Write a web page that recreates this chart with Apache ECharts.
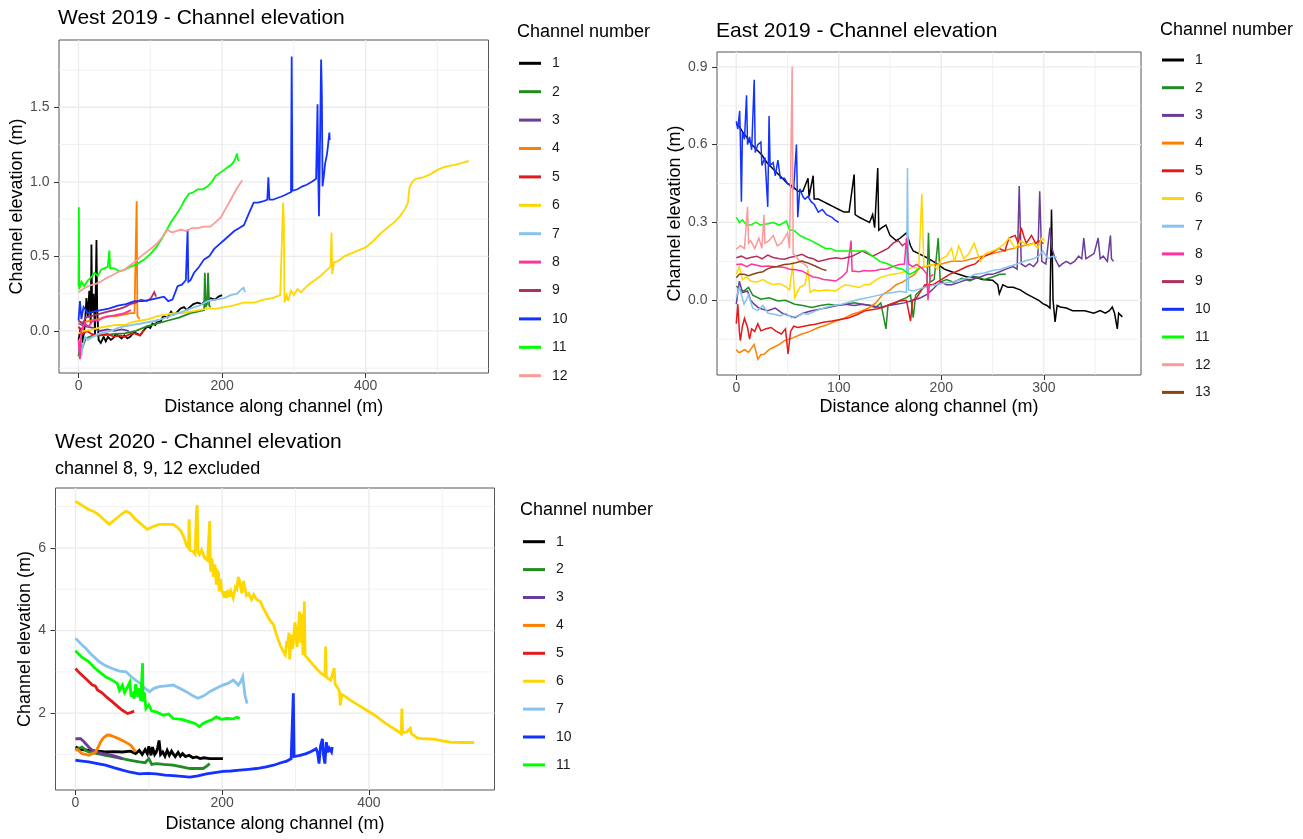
<!DOCTYPE html>
<html>
<head>
<meta charset="utf-8">
<script src="https://cdn.jsdelivr.net/npm/echarts@6/dist/echarts.min.js"></script>
<style>
html,body{margin:0;padding:0;background:#fff;}
#chart{width:1303px;height:839px;}
</style>
</head>
<body>
<div id="chart"></div>
<script>
// ---------------- DATA ----------------
// West 2019 panel: [distance (m), elevation (m)]
const w19_ch1 = [[0,-0.06],[3,0.02],[6,-0.08],[9,0.05],[11,0.22],[13,0.1],[15,0.27],[17,0.05],[18,0.58],[19,0.12],[21,0.25],[23,-0.02],[25,0.61],[26,0.15],[28,-0.06],[31,-0.08],[35,-0.04],[38,-0.07],[41,-0.04],[45,-0.06],[48,-0.05],[52,-0.02],[55,-0.03],[60,-0.05],[64,-0.03],[68,-0.05],[72,-0.04],[77,-0.01],[82,-0.02],[86,-0.03],[90,0.0],[96,0.03],[100,0.02],[103,0.05],[107,0.04],[110,0.07],[114,0.06],[118,0.1],[124,0.09],[129,0.13],[132,0.11],[136,0.12],[142,0.15],[147,0.16],[151,0.14],[155,0.16],[160,0.18],[166,0.19],[172,0.18],[178,0.21],[184,0.22],[190,0.21],[195,0.23],[200,0.24]];
const w19_ch2 = [[0,-0.17],[2,-0.08],[5,-0.12],[10,-0.05],[20,-0.03],[35,-0.03],[50,-0.02],[64,-0.016],[80,0.0],[95,0.03],[110,0.05],[125,0.07],[140,0.09],[156,0.12],[166,0.13],[175,0.14],[176,0.39],[177,0.16],[179,0.18],[180.5,0.39],[182,0.17],[184,0.16]];
const w19_ch3 = [[0,0.05],[10,0.03],[20,0.02],[30,0.0],[40,0.01],[50,0.0],[60,0.01],[70,0.0]];
const w19_ch4 = [[0,0.05],[8,0.06],[17,0.07],[28,0.08],[40,0.1],[52,0.1],[64,0.11],[72,0.12],[78,0.12],[81,0.87],[82,0.1],[85,0.08]];
const w19_ch5 = [[0,0.03],[6,-0.02],[12,0.0],[18,-0.02],[28,-0.03],[40,-0.02],[50,-0.04],[58,-0.03],[64,-0.04],[72,-0.02],[78,-0.016],[85,-0.03],[92,0.007]];
const w19_ch6 = [[0,-0.016],[8,0.0],[17.6,0.007],[28,0.02],[40,0.03],[52,0.04],[64,0.04],[75,0.06],[87,0.07],[98,0.08],[110,0.1],[122,0.11],[133,0.12],[145,0.12],[156,0.13],[168,0.14],[180,0.15],[192,0.15],[203,0.16],[215,0.17],[230,0.19],[245,0.19],[258,0.21],[270,0.22],[281,0.24],[285,0.86],[286,0.75],[287,0.19],[290,0.24],[292,0.2],[296,0.27],[300,0.24],[305,0.28],[310,0.26],[318,0.3],[326,0.33],[335,0.36],[344,0.4],[351,0.43],[352.5,0.66],[353.5,0.38],[356,0.46],[362,0.47],[370,0.5],[380,0.52],[390,0.54],[400,0.56],[410,0.6],[420,0.65],[430,0.69],[440,0.73],[448,0.77],[455,0.82],[459,0.86],[461,0.96],[465,1.0],[470,1.02],[480,1.03],[490,1.05],[500,1.08],[510,1.1],[520,1.11],[530,1.12],[537,1.13],[544,1.14]];
const w19_ch7 = [[0,-0.13],[2,-0.05],[3.7,-0.17],[6,-0.1],[9,-0.04],[13,-0.06],[20,-0.04],[28,-0.02],[36,-0.01],[45,0.0],[55,0.02],[64,0.03],[75,0.04],[87,0.05],[98,0.06],[110,0.07],[122,0.09],[133,0.11],[145,0.13],[156,0.15],[168,0.17],[180,0.2],[192,0.21],[203,0.22],[212,0.24],[221,0.25],[227,0.28],[230,0.29],[232,0.26]];
const w19_ch8 = [[0,-0.06],[2,-0.19],[4,0.0],[8,0.05],[14,0.03],[20,0.07],[27,0.07],[35,0.09],[45,0.1],[55,0.11],[64,0.12],[73,0.14]];
const w19_ch9 = [[0,0.07],[6,0.05],[10,0.09],[17.6,0.1],[25,0.11],[33,0.12],[40.7,0.13],[50,0.14],[58,0.15],[64,0.16],[72,0.18],[80,0.19],[87,0.21],[95,0.2],[101,0.22],[105.5,0.26],[108,0.23]];
const w19_ch10 = [[0,0.07],[2,0.2],[4,0.08],[7,0.16],[13,0.12],[20,0.13],[31.5,0.14],[42,0.15],[55,0.17],[66,0.18],[78,0.2],[90,0.2],[101,0.21],[110,0.22],[119,0.23],[125,0.2],[131,0.21],[138,0.3],[144,0.31],[149.5,0.34],[152,0.68],[153,0.33],[156,0.34],[161,0.39],[168,0.43],[175,0.48],[182,0.5],[189,0.55],[196,0.58],[203,0.61],[210,0.64],[217,0.67],[224,0.69],[230.5,0.71],[237.5,0.79],[244,0.86],[250,0.86],[258,0.87],[263,0.88],[264.5,1.03],[266,0.88],[271,0.88],[276,0.89],[282,0.9],[287,0.91],[291,0.92],[296,0.93],[297,1.84],[298,0.94],[305,0.95],[312,0.97],[318,0.98],[325,1.0],[331,1.02],[333,1.52],[334,1.05],[335,0.77],[336,1.1],[338,1.82],[339,1.59],[340,0.97],[342,1.05],[343.5,1.12],[346,1.18],[347.5,1.24],[349.5,1.33],[350,1.28]];
const w19_ch11 = [[0,0.3],[0.5,0.83],[1,0.28],[4,0.33],[8,0.3],[13,0.34],[18,0.36],[22,0.39],[27,0.37],[31.5,0.41],[36,0.42],[40.7,0.43],[43,0.54],[44,0.42],[50,0.42],[57,0.4],[64,0.41],[72,0.43],[82,0.45],[92,0.48],[101,0.52],[108,0.56],[115,0.61],[122,0.67],[129,0.73],[136,0.78],[142.6,0.83],[148,0.88],[154,0.92],[160,0.93],[166,0.95],[173,0.95],[180,0.97],[186,1.0],[191,1.04],[197,1.06],[203,1.08],[208,1.1],[212,1.11],[217,1.14],[221,1.19],[222,1.15],[223.6,1.14]];
const w19_ch12 = [[0,0.26],[6,0.28],[13,0.3],[20,0.31],[27,0.32],[34,0.34],[40.7,0.36],[50,0.38],[57,0.4],[64,0.41],[72,0.44],[80,0.47],[87,0.5],[95,0.53],[103,0.56],[110,0.59],[117,0.63],[124,0.68],[130,0.66],[136,0.67],[142.6,0.68],[150,0.67],[158,0.69],[166,0.69],[175,0.7],[184,0.7],[191,0.73],[198,0.76],[205,0.82],[212,0.88],[220,0.95],[228,1.01]];

// East 2019 panel
const e19_ch1 = [[0,0.68],[3,0.67],[6,0.65],[10,0.63],[15,0.6],[20,0.58],[25,0.56],[30,0.53],[35,0.51],[40,0.49],[45,0.47],[50,0.45],[55,0.44],[60,0.42],[65,0.42],[70,0.47],[71,0.4],[75,0.48],[76,0.39],[80,0.39],[85,0.38],[90,0.37],[95,0.36],[100,0.35],[105,0.34],[110,0.34],[115,0.485],[116,0.33],[120,0.32],[125,0.31],[130,0.3],[133,0.33],[135,0.28],[138,0.51],[139,0.27],[142,0.28],[146,0.29],[150,0.25],[156,0.23],[160,0.24],[166,0.26],[170,0.21],[172.6,0.19],[178,0.18],[186,0.164],[192,0.15],[196,0.14],[203,0.12],[210,0.11],[217,0.1],[225,0.09],[233,0.09],[240,0.08],[250,0.077],[255,0.06],[256.6,0.025],[260,0.06],[265,0.05],[270,0.05],[277,0.04],[283,0.025],[290,0.01],[295,0.0],[299,-0.013],[303,-0.02],[306,-0.03],[307.5,0.35],[309,0.0],[311,-0.083],[313,-0.02],[316,-0.026],[322,-0.03],[328,-0.04],[332,-0.04],[340,-0.04],[348.7,-0.05],[355,-0.04],[360,-0.05],[364,-0.04],[366.8,-0.026],[369,-0.05],[371.7,-0.11],[373,-0.05],[376.6,-0.064]];
const e19_ch2 = [[0,0.055],[4,0.04],[7.6,0.036],[12,0.05],[16,0.02],[24,0.004],[32,0.01],[40.6,-0.003],[48,0.0],[57,-0.015],[65,-0.02],[73.6,-0.028],[82,-0.02],[90,-0.015],[98,-0.02],[106.6,-0.015],[115,-0.01],[123,-0.015],[130,-0.02],[136,-0.028],[141,-0.01],[146,-0.11],[148,-0.02],[153,-0.015],[160,0.0],[166,0.01],[170,0.02],[172.6,-0.067],[175,0.02],[179,0.036],[186,0.06],[187.5,0.26],[189,0.07],[193,0.08],[197,0.24],[199,0.07],[205,0.08],[212,0.07],[220,0.085],[228,0.075],[235,0.09],[242,0.08],[250,0.09],[257,0.1],[263,0.1]];
const e19_ch3 = [[0,-0.015],[3,0.074],[6,0.03],[11,0.036],[14,0.0],[17.5,-0.015],[22,-0.03],[30.7,-0.04],[38,-0.03],[45,-0.05],[52,-0.06],[57,-0.067],[65,-0.05],[73.6,-0.04],[80,-0.035],[90,-0.028],[98,-0.02],[106.6,-0.015],[115,-0.02],[123,-0.015],[132,-0.02],[140,-0.028],[148,-0.02],[156,-0.015],[164,-0.01],[172.6,0.0],[180,0.01],[186,0.023],[191,0.04],[196,0.06],[200,0.07],[205,0.06],[210,0.06],[218,0.07],[225,0.08],[230,0.08],[238,0.09],[245,0.1],[250,0.1],[257,0.11],[263,0.12],[270,0.13],[274,0.12],[276,0.44],[278,0.14],[282,0.13],[286,0.14],[290,0.13],[294,0.15],[296,0.42],[298,0.15],[302,0.14],[306,0.28],[308,0.2],[311,0.16],[315,0.13],[318,0.14],[322,0.15],[326,0.14],[330,0.15],[334,0.17],[337,0.16],[339,0.24],[341,0.16],[345,0.17],[349,0.18],[353,0.24],[355,0.16],[358,0.17],[362,0.15],[365,0.25],[366,0.16],[368,0.15]];
const e19_ch4 = [[0,-0.19],[2,-0.2],[4,-0.2],[8,-0.19],[12,-0.2],[17.5,-0.17],[21,-0.227],[24,-0.21],[27,-0.208],[32,-0.19],[37,-0.18],[42,-0.17],[47,-0.156],[55,-0.145],[64,-0.13],[72,-0.12],[80,-0.105],[88,-0.095],[97,-0.08],[105,-0.07],[113,-0.054],[120,-0.045],[130,-0.028],[136,-0.01],[143,0.023],[150,0.04],[156,0.06],[162,0.07],[169,0.087],[174,0.1],[179,0.126],[186,0.13],[192,0.138],[200,0.14],[210,0.15],[220,0.15],[230,0.16],[240,0.17],[250,0.18],[260,0.19],[270,0.2],[280,0.21],[290,0.22],[300,0.22]];
const e19_ch5 = [[0,-0.09],[1.5,-0.015],[3,-0.12],[4,-0.156],[6,-0.1],[8,-0.07],[11,-0.105],[13,-0.15],[15,-0.11],[18,-0.12],[21,-0.09],[24,-0.118],[29,-0.11],[34,-0.105],[39,-0.12],[44,-0.13],[48,-0.11],[50.5,-0.207],[53,-0.12],[56,-0.1],[60,-0.105],[66,-0.1],[72,-0.095],[77,-0.092],[85,-0.085],[93.4,-0.08],[100,-0.075],[110,-0.067],[118,-0.055],[126,-0.04],[135,-0.035],[143,-0.028],[150,-0.015],[159,-0.003],[166,0.0],[170,-0.08],[172,0.0],[176,0.01],[184,0.06],[192,0.06],[200,0.08],[208,0.1],[217,0.115],[225,0.13],[233,0.14],[240,0.166],[248,0.18],[256,0.2],[262,0.19],[266,0.24],[272,0.25],[275,0.22],[278,0.28],[281,0.24],[283,0.22],[288,0.25],[292,0.22],[295,0.23],[299,0.22]];
const e19_ch6 = [[0,0.1],[3,0.13],[6,0.08],[10,0.09],[14,0.074],[20,0.07],[26,0.08],[30,0.07],[36,0.06],[42,0.065],[47,0.055],[52,0.04],[55,0.14],[57,0.01],[62,0.05],[67,0.06],[70,0.12],[72,0.03],[76,0.04],[80,0.036],[88,0.04],[97,0.036],[102,0.05],[106.6,0.06],[113,0.055],[120,0.049],[125,0.06],[130,0.06],[135,0.075],[140,0.087],[146,0.095],[153,0.1],[160,0.105],[166,0.113],[172,0.13],[178,0.12],[181,0.41],[183,0.13],[188,0.135],[192,0.138],[196,0.12],[200,0.16],[205,0.17],[210,0.2],[213,0.15],[217,0.21],[222,0.16],[227,0.18],[232,0.22],[238,0.15],[243,0.18],[250,0.19],[256,0.2],[262,0.22],[266,0.24],[272,0.2],[278,0.23],[284,0.21],[290,0.22],[294,0.2],[298,0.24],[301,0.23]];
const e19_ch7 = [[0,0.01],[3,0.05],[7.6,-0.015],[12,0.02],[16,-0.03],[20.8,-0.04],[26,-0.02],[31,-0.05],[37,-0.054],[43,-0.06],[48,-0.05],[54,-0.067],[60,-0.06],[65,-0.05],[70,-0.054],[78,-0.04],[87,-0.028],[95,-0.02],[103,-0.015],[112,-0.005],[120,0.004],[128,0.01],[136,0.017],[145,0.025],[153,0.03],[160,0.035],[166,0.03],[167,0.51],[168,0.04],[172.6,0.036],[180,0.045],[184,0.05],[189,0.055],[195,0.06],[200,0.065],[210,0.07],[217,0.077],[225,0.085],[233,0.1],[242,0.105],[250,0.115],[258,0.12],[266,0.13],[274,0.14],[283,0.153],[290,0.16],[295,0.17],[299,0.19],[304,0.16],[308,0.17],[312.5,0.166]];
const e19_ch8 = [[0,0.138],[5,0.14],[10,0.13],[15,0.14],[20,0.135],[25,0.13],[30.7,0.132],[36,0.13],[42,0.128],[47,0.126],[52,0.12],[58,0.118],[64,0.113],[70,0.1],[75,0.09],[80,0.087],[85,0.08],[90,0.078],[97,0.074],[103,0.09],[108,0.11],[112,0.23],[113,0.113],[120,0.11],[125,0.115],[130,0.113],[136,0.115],[141,0.12],[146,0.12],[153,0.13],[159,0.138],[164,0.14],[166,0.24],[168,0.14],[172,0.13],[176,0.138],[182,0.12],[186,0.1],[187,0.0],[189,0.09],[192,0.1]];
const e19_ch9 = [[0,0.164],[5,0.17],[10,0.16],[14,0.165],[20,0.17],[25,0.16],[30.7,0.174],[36,0.165],[42,0.16],[47,0.158],[52,0.165],[58,0.17],[64,0.177],[70,0.165],[75,0.16],[80,0.15],[86,0.155],[91,0.16],[97,0.164],[103,0.16],[108,0.165],[113,0.17],[118,0.18],[123,0.19],[128,0.18],[133,0.17],[138,0.18],[143,0.19],[148,0.2],[153,0.22],[158,0.23],[162,0.21],[165,0.22]];
const e19_ch10 = [[0,0.69],[1.5,0.66],[3.3,0.73],[4,0.62],[5,0.38],[6,0.65],[8,0.62],[10,0.79],[11,0.6],[13,0.63],[15,0.58],[17.5,0.85],[18.5,0.57],[21,0.6],[24,0.61],[25,0.52],[28,0.55],[30.7,0.36],[32,0.71],[33,0.52],[36,0.53],[38,0.48],[40.6,0.54],[43,0.47],[47,0.47],[50,0.45],[53,0.44],[56,0.43],[58.7,0.6],[60,0.32],[62,0.43],[65,0.4],[67,0.39],[70,0.4],[73,0.38],[76,0.37],[80,0.34],[84,0.35],[88,0.33],[93.4,0.32],[96,0.31],[100,0.3]];
const e19_ch11 = [[0,0.32],[3,0.3],[6,0.31],[10,0.29],[14,0.29],[19,0.3],[24,0.29],[30.7,0.295],[36,0.3],[42,0.29],[49,0.305],[52,0.27],[56,0.27],[62,0.25],[67,0.24],[73,0.23],[80,0.215],[87,0.2],[92,0.2],[97,0.19],[104,0.19],[113,0.19],[120,0.19],[126,0.19],[133,0.17],[140,0.15],[148,0.14],[156,0.125],[162,0.12],[169,0.1],[174,0.11],[179,0.125]];
const e19_ch12 = [[0,0.196],[4,0.21],[8,0.2],[11,0.36],[12,0.22],[14,0.23],[18,0.2],[22,0.24],[25,0.2],[27,0.33],[28,0.22],[32,0.23],[36,0.25],[40,0.21],[44,0.22],[47,0.24],[50,0.26],[52,0.2],[54.5,0.9],[55.5,0.18],[58,0.17],[62,0.15],[66,0.14],[70,0.126]];
const e19_ch13 = [[0,0.087],[3,0.1],[7.6,0.1],[12,0.095],[16,0.1],[20.8,0.106],[26,0.11],[30,0.12],[34,0.126],[40,0.13],[47,0.138],[52,0.14],[58,0.145],[64,0.151],[69,0.145],[73.6,0.138],[78,0.13],[83.5,0.12],[88,0.115]];

// West 2020 panel
const w20_ch1 = [[0,1.18],[9,1.12],[18,1.1],[30,1.08],[41,1.06],[52,1.07],[64,1.06],[75,1.08],[82,1.02],[87,1.1],[91,1.0],[95,1.12],[98,1.02],[100,1.2],[103,0.98],[105,1.18],[108,1.0],[110,1.05],[112,1.16],[114,1.34],[116,1.0],[119,1.06],[122,0.96],[125,1.1],[128,0.98],[131,1.08],[133,1.02],[136,0.95],[140,1.05],[143,0.96],[146,1.02],[150,0.95],[155,0.98],[160,0.92],[165,0.94],[170,0.9],[175,0.92],[183,0.9],[192,0.9],[201,0.9]];
const w20_ch2 = [[0,1.1],[5,1.15],[9,1.18],[14,1.1],[18,1.06],[30,1.02],[41,0.98],[52,0.94],[64,0.9],[75,0.86],[87,0.82],[95,0.8],[100,0.9],[104,0.76],[110,0.78],[120,0.76],[133,0.74],[145,0.7],[156,0.66],[165,0.66],[174,0.66],[179,0.72],[183,0.78]];
const w20_ch3 = [[0,1.38],[7,1.38],[11,1.32],[14,1.26],[18,1.18],[23,1.1],[30,1.05],[37,1.02],[44,1.0],[50,0.98],[57,0.94],[64,0.9]];
const w20_ch4 = [[0,1.14],[4,1.1],[9,1.02],[14,1.0],[18,0.98],[23,1.02],[27.5,1.06],[31,1.18],[34,1.3],[38,1.4],[43.5,1.47],[48,1.46],[52.6,1.43],[58,1.39],[64,1.34],[70,1.28],[75.5,1.22],[79,1.14],[82,1.06]];
const w20_ch5 = [[0,3.08],[4,3.0],[9,2.92],[16,2.8],[23,2.68],[27,2.66],[30,2.56],[34,2.52],[37,2.48],[43,2.38],[50,2.28],[57,2.17],[64,2.07],[71,1.99],[76,2.02],[80,2.05]];
const w20_ch6 = [[0,7.13],[9,7.03],[18,6.93],[25,6.88],[32,6.8],[39,6.68],[46,6.57],[52,6.66],[57,6.73],[63,6.82],[69,6.89],[75,6.83],[82,6.69],[90,6.57],[98,6.45],[106,6.52],[114,6.57],[124,6.57],[133,6.57],[139,6.5],[144,6.4],[148,6.25],[151,6.08],[154,6.0],[155,6.69],[156,5.95],[160,5.92],[163,5.85],[165,6.9],[166,7.04],[167,5.9],[169,5.84],[172,5.95],[176,5.76],[180,5.7],[183,6.65],[184,5.5],[185,5.43],[186,5.75],[188,5.3],[190,5.6],[192,5.11],[193,5.45],[195,5.4],[196,4.95],[198,5.25],[199,5.0],[201,5.03],[203,4.8],[204,4.95],[206,4.79],[208,4.98],[210,4.82],[212,4.95],[215,4.79],[218,5.05],[220,5.0],[222,5.3],[224,5.19],[226,4.95],[227,4.9],[229,5.2],[231,5.03],[233,4.85],[236,4.9],[240,4.75],[243,4.87],[247,4.75],[252,4.7],[256,4.55],[261,4.38],[265,4.25],[270,4.14],[274,3.9],[279,3.65],[283,3.5],[286,3.41],[288,3.75],[289,3.6],[291,3.95],[292,3.3],[294,3.9],[296,3.55],[297,3.7],[299,4.2],[300,4.1],[302,3.6],[303,3.8],[305.5,4.46],[307,3.7],[308,3.9],[309,4.4],[310,3.41],[312,4.7],[313,3.4],[318,3.3],[324,3.17],[330,3.05],[335,2.96],[340,2.9],[341,3.61],[342,2.9],[344,2.84],[348,2.8],[352.6,3.09],[354,2.7],[358,2.6],[360,2.5],[361,2.19],[363,2.45],[368,2.4],[374,2.32],[385,2.2],[397,2.07],[408,1.95],[420,1.79],[430,1.67],[440.5,1.55],[444,1.5],[445,2.11],[446,1.52],[447,1.5],[452,1.55],[456.5,1.63],[458,1.5],[465.7,1.4],[475,1.38],[488.6,1.37],[500,1.33],[511,1.3],[525,1.29],[535,1.29],[543.5,1.29]];
const w20_ch7 = [[0,3.81],[5,3.72],[9,3.65],[14,3.57],[20,3.45],[26,3.35],[32,3.25],[41,3.15],[50,3.08],[60,3.02],[69,3.0],[75,2.9],[82,2.8],[90,2.7],[95,2.6],[101,2.52],[107,2.6],[114,2.64],[124,2.66],[133,2.68],[142,2.6],[151,2.52],[160,2.42],[167,2.36],[175,2.42],[183,2.52],[192,2.6],[201,2.68],[208,2.72],[215,2.8],[222,2.68],[225,2.75],[228,2.88],[230,2.6],[231,2.44],[234,2.23]];
const w20_ch10 = [[0,0.86],[9,0.84],[18,0.82],[30,0.78],[41,0.74],[52,0.68],[64,0.62],[75,0.57],[87,0.53],[98,0.54],[110,0.53],[122,0.5],[133,0.49],[145,0.47],[156,0.45],[167,0.48],[178.5,0.53],[190,0.56],[201,0.59],[212,0.6],[224,0.62],[236,0.64],[247,0.66],[260,0.7],[270,0.74],[280,0.8],[288,0.84],[294,0.9],[296,0.92],[297,2.48],[298,0.95],[306,0.98],[314.6,1.02],[322,1.08],[328,1.14],[330,1.05],[332,0.78],[334,1.2],[336.6,1.38],[338,1.0],[340,0.78],[342,1.3],[344,1.05],[346,1.15],[349,1.06],[350,1.18]];
const w20_ch11 = [[0,3.51],[5,3.42],[9,3.35],[18,3.25],[26,3.1],[34,2.98],[41,2.88],[50,2.8],[57,2.72],[60,2.55],[64,2.68],[67,2.5],[70,2.6],[74,2.75],[76,2.4],[78,2.52],[80,2.35],[82,2.7],[85,2.4],[87,2.6],[89,2.3],[91.5,3.21],[92,2.28],[94,2.5],[96,2.11],[100,2.2],[104,2.05],[110,2.03],[120,1.95],[127,1.98],[133,1.87],[145,1.85],[156,1.79],[163,1.75],[169,1.67],[174,1.75],[178.5,1.79],[186,1.84],[192,1.91],[199,1.85],[206,1.87],[215,1.86],[220,1.9],[224,1.87]];

// Channel lists per panel
const w19_channels = [1,2,3,4,5,6,7,8,9,10,11,12];
const e19_channels = [1,2,3,4,5,6,7,8,9,10,11,12,13];
const w20_channels = [1,2,3,4,5,6,7,10,11];

// Axis limits and tick labels
const w19_xRange = [-27.2, 571.2];
const w19_yRange = [-0.282, 1.951];
const w19_xTicks = [0, 200, 400];
const w19_xMinor = [100, 300, 500];
const w19_yTicks = [0, 0.5, 1.0, 1.5];
const w19_yMinor = [-0.25, 0.25, 0.75, 1.25, 1.75];

const e19_xRange = [-18.8, 394.8];
const e19_yRange = [-0.288, 0.957];
const e19_xTicks = [0, 100, 200, 300];
const e19_xMinor = [50, 150, 250, 350];
const e19_yTicks = [0, 0.3, 0.6, 0.9];
const e19_yMinor = [-0.15, 0.15, 0.45, 0.75];

const w20_xRange = [-27.2, 571.2];
const w20_yRange = [0.14, 7.45];
const w20_xTicks = [0, 200, 400];
const w20_xMinor = [100, 300, 500];
const w20_yTicks = [2, 4, 6];
const w20_yMinor = [1, 3, 5, 7];

// ---------------- STYLE ----------------
const FONT = '"Liberation Sans", Arial, Helvetica, sans-serif';
const COLORS = {1:'#000000',2:'#228B22',3:'#6A3D9A',4:'#FF7F00',5:'#E31A1C',6:'#FFD700',7:'#87C3EC',8:'#FF3399',9:'#B03060',10:'#1432FF',11:'#00FF00',12:'#FB9A99',13:'#8B4513'};

const dataW19 = {1:w19_ch1,2:w19_ch2,3:w19_ch3,4:w19_ch4,5:w19_ch5,6:w19_ch6,7:w19_ch7,8:w19_ch8,9:w19_ch9,10:w19_ch10,11:w19_ch11,12:w19_ch12};
const dataE19 = {1:e19_ch1,2:e19_ch2,3:e19_ch3,4:e19_ch4,5:e19_ch5,6:e19_ch6,7:e19_ch7,8:e19_ch8,9:e19_ch9,10:e19_ch10,11:e19_ch11,12:e19_ch12,13:e19_ch13};
const dataW20 = {1:w20_ch1,2:w20_ch2,3:w20_ch3,4:w20_ch4,5:w20_ch5,6:w20_ch6,7:w20_ch7,10:w20_ch10,11:w20_ch11};

const panels = [
  {grid:{left:59, top:40, width:429.5, height:333}, xr:w19_xRange, yr:w19_yRange, xt:w19_xTicks, xm:w19_xMinor, yt:w19_yTicks, ym:w19_yMinor,
   chans:w19_channels, data:dataW19, lw:1.8, op:1, yfmt:v=>v.toFixed(1), yGap:32, xGap:25},
  {grid:{left:717, top:52, width:424, height:323}, xr:e19_xRange, yr:e19_yRange, xt:e19_xTicks, xm:e19_xMinor, yt:e19_yTicks, ym:e19_yMinor,
   chans:e19_channels, data:dataE19, lw:1.5, op:1, yfmt:v=>v.toFixed(1), yGap:32, xGap:23},
  {grid:{left:55.5, top:488, width:439, height:302}, xr:w20_xRange, yr:w20_yRange, xt:w20_xTicks, xm:w20_xMinor, yt:w20_yTicks, ym:w20_yMinor,
   chans:w20_channels, data:dataW20, lw:2.8, op:1, yfmt:v=>String(v), yGap:21.5, xGap:25}
];

const grids = [], xAxes = [], yAxes = [], series = [];
panels.forEach((p, i) => {
  grids.push(Object.assign({show:true, borderColor:'#555', borderWidth:1, backgroundColor:'#fff', containLabel:false}, p.grid));
  xAxes.push({
    gridIndex:i, type:'value', min:p.xr[0], max:p.xr[1], position:'bottom',
    axisLine:{show:false, onZero:false}, splitLine:{show:false},
    axisTick:{show:true, inside:false, length:5, lineStyle:{color:'#333', width:1}, customValues:p.xt},
    axisLabel:{customValues:p.xt, color:'#4d4d4d', fontSize:14, margin:6, fontFamily:FONT, formatter:v=>String(v)},
    name:'Distance along channel (m)', nameLocation:'middle', nameGap:p.xGap,
    nameTextStyle:{fontSize:18, color:'#000', fontFamily:FONT}
  });
  yAxes.push({
    gridIndex:i, type:'value', min:p.yr[0], max:p.yr[1], position:'left',
    axisLine:{show:false, onZero:false}, splitLine:{show:false},
    axisTick:{show:true, inside:false, length:5, lineStyle:{color:'#333', width:1}, customValues:p.yt},
    axisLabel:{customValues:p.yt, color:'#4d4d4d', fontSize:14, margin:9.5, fontFamily:FONT, formatter:p.yfmt},
    name:'Channel elevation (m)', nameLocation:'middle', nameGap:p.yGap, nameRotate:90,
    nameTextStyle:{fontSize:18, color:'#000', fontFamily:FONT}
  });
  // grid lines (minor then major), drawn through the axes' scales
  const gl = (vals, vertical, w) => vals.forEach(v => series.push({
    type:'line', xAxisIndex:i, yAxisIndex:i, silent:true, animation:false, symbol:'none', z:1,
    lineStyle:{color:'#EBEBEB', width:w}, tooltip:{show:false},
    data: vertical ? [[v, p.yr[0]],[v, p.yr[1]]] : [[p.xr[0], v],[p.xr[1], v]]
  }));
  gl(p.xm, true, 0.7); gl(p.ym, false, 0.7);
  gl(p.xt, true, 1.3); gl(p.yt, false, 1.3);
  p.chans.forEach(ch => series.push({
    type:'line', name:String(ch), xAxisIndex:i, yAxisIndex:i, data:p.data[ch],
    symbol:'none', showSymbol:false, silent:true, animation:false, z:3,
    lineStyle:{width:p.lw, color:COLORS[ch], opacity:p.op, join:'miter', miterLimit:4},
    itemStyle:{color:COLORS[ch]}
  }));
});

const legendBase = (left, top, names, gap) => ({
  orient:'vertical', left:left, top:top, data:names.map(String), icon:'rect',
  itemWidth:22, itemHeight:3, itemGap:gap, padding:0, selectedMode:false,
  textStyle:{fontSize:14, color:'#1a1a1a', fontFamily:FONT, lineHeight:16, padding:[0,0,0,6]}
});

const titleStyle = (text, left, top, size, lh) => ({
  text:text, left:left, top:top, padding:0,
  textStyle:{fontSize:size, fontWeight:'normal', color:'#000', fontFamily:FONT, lineHeight:lh}
});

const option = {
  backgroundColor:'#fff',
  animation:false,
  title:[
    titleStyle('West 2019 - Channel elevation', 58, 6, 21, 24),
    titleStyle('East 2019 - Channel elevation', 716, 19, 21, 24),
    titleStyle('West 2020 - Channel elevation', 55, 430, 21, 24),
    titleStyle('channel 8, 9, 12 excluded', 55, 459, 18, 20),
    titleStyle('Channel number', 517, 22, 18, 20),
    titleStyle('Channel number', 1160, 20, 18, 20),
    titleStyle('Channel number', 520, 500, 18, 20)
  ],
  legend:[
    legendBase(519, 55.3, w19_channels, 12.4),
    legendBase(1162, 52, e19_channels, 11.7),
    legendBase(523, 533.7, w20_channels, 11.9)
  ],
  grid:grids, xAxis:xAxes, yAxis:yAxes, series:series
};

const chart = echarts.init(document.getElementById('chart'), null, {renderer:'canvas'});
chart.setOption(option);
</script>
</body>
</html>
